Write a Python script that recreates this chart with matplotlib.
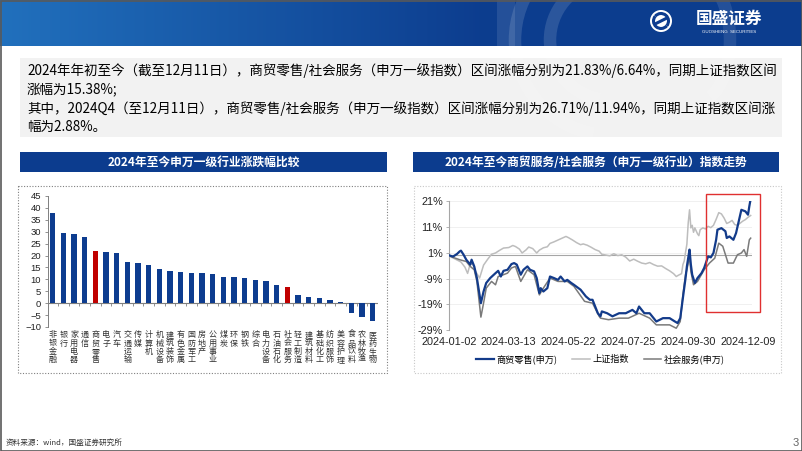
import numpy as np
import pandas as pd
import matplotlib
matplotlib.use("Agg")
import matplotlib.pyplot as plt
import matplotlib.transforms as mtransforms
from matplotlib.patches import Rectangle, Circle, Arc
from matplotlib.lines import Line2D

plt.rcParams['font.family'] = ['Noto Sans CJK SC', 'DejaVu Sans']
NUM_FONT = 'Liberation Sans'

# ---------------- left chart: SW level-1 industries, 2024 YTD change (%)
industries = ["非银金融", "银行", "家用电器", "通信", "商贸零售", "电子", "汽车", "交通运输",
              "传媒", "计算机", "机械设备", "建筑装饰", "有色金属", "国防军工", "房地产", "公用事业",
              "煤炭", "环保", "钢铁", "综合", "电力设备", "石油石化", "社会服务", "轻工制造",
              "建筑材料", "基础化工", "纺织服饰", "美容护理", "食品饮料", "农林牧渔", "医药生物"]
ytd_change = [38.0, 29.4, 29.0, 27.8, 21.83, 21.5, 21.0, 17.2,
              16.8, 16.1, 14.3, 13.7, 12.9, 12.6, 12.6, 12.2,
              10.9, 10.8, 10.5, 9.7, 9.4, 7.8, 6.64, 3.5,
              2.5, 2.2, 1.3, 0.4, -4.3, -5.6, -7.4]
highlight = ["商贸零售", "社会服务"]

# ---------------- right chart: index change since 2023 close (%), by trading day
holidays = ["2024-01-01", "2024-02-09", "2024-02-12", "2024-02-13", "2024-02-14",
            "2024-02-15", "2024-02-16", "2024-04-04", "2024-04-05", "2024-05-01",
            "2024-05-02", "2024-05-03", "2024-06-10", "2024-09-16", "2024-09-17",
            "2024-10-01", "2024-10-02", "2024-10-03", "2024-10-04", "2024-10-07"]
date_ticks = ["2024-01-02", "2024-03-13", "2024-05-22", "2024-07-25", "2024-09-30", "2024-12-09"]

sse_day = [0, 3, 6, 9, 12, 14, 16, 18, 20, 23, 25, 26, 29, 32, 35, 38, 41, 45, 48, 50, 53, 55,
           58, 60, 63, 66, 68, 71, 74, 76, 79, 82, 85, 88, 90, 93, 96, 99, 101, 104, 107, 110,
           113, 115, 118, 121, 124, 127, 130, 133, 136, 139, 142, 145, 148, 151, 154, 157, 160,
           163, 166, 169, 171, 173, 175, 176, 177, 178, 179, 180, 181, 182, 183, 184, 185, 187,
           188, 189, 191, 193, 195, 197, 199, 201, 203, 205, 207, 209, 211, 213, 215, 217, 219,
           221, 223, 225, 227]
sse_pct = [-0.4, -1.0, -1.8, -2.6, -4.6, -7.0, -3.2, -3.6, -6.2, -8.8, -5.5, -3.8, -1.6, 0.4,
           0.9, 1.9, 2.8, 3.0, 3.8, 3.4, 2.4, 0.9, 2.1, 3.2, 2.6, 0.9, 2.0, 2.9, 3.3, 4.6, 5.2,
           5.9, 6.6, 7.3, 6.8, 5.9, 4.9, 4.1, 4.4, 3.9, 3.1, 2.2, 1.6, 0.4, 0.1, -0.2, 0.6, -0.1,
           0.2, -0.7, -2.2, -1.5, -2.3, -3.0, -3.3, -2.8, -3.6, -4.2, -4.1, -5.1, -6.0, -7.1,
           -8.2, -7.6, -7.1, -3.6, -2.2, 1.2, 4.3, 12.5, 17.6, 10.6, 11.6, 8.9, 10.6, 8.3, 7.6,
           9.9, 10.6, 10.2, 11.2, 10.7, 11.6, 13.9, 16.5, 16.0, 14.4, 12.3, 12.8, 13.5, 11.9,
           11.6, 12.4, 13.2, 13.8, 14.7, 15.4]

retail_day = [0, 3, 6, 8, 9, 11, 13, 16, 17, 19, 21, 23, 24, 26, 28, 31, 35, 37, 39, 41, 44, 47,
              49, 51, 54, 56, 59, 61, 64, 66, 68, 69, 71, 74, 76, 79, 82, 84, 87, 89, 92, 94, 99,
              103, 106, 108, 112, 114, 115, 119, 123, 128, 133, 138, 141, 143, 147, 151, 156, 161,
              166, 170, 172, 174, 176, 178, 179, 180, 181, 182, 183, 185, 187, 190, 192, 195, 197,
              199, 201, 202, 205, 208, 209, 211, 214, 216, 218, 220, 223, 225, 226, 227]
retail_pct = [0.0, -0.5, 0.5, 1.5, 1.8, 0.2, -1.7, -3.6, -1.7, -4.3, -8.8, -15.3, -18.5, -14.0,
              -10.7, -8.8, -6.9, -6.0, -8.2, -6.0, -5.6, -3.4, -3.0, -3.6, -7.5, -5.6, -4.3, -5.6,
              -6.2, -8.8, -14.6, -12.7, -14.0, -12.7, -8.2, -8.8, -9.5, -8.2, -10.1, -9.5, -10.7,
              -11.4, -13.3, -15.9, -17.2, -17.2, -22.4, -23.6, -21.7, -22.4, -23.6, -22.4, -22.4,
              -21.1, -22.4, -19.8, -22.4, -22.4, -25.6, -24.3, -24.3, -25.6, -26.2, -24.3, -16.5,
              -8.8, -4.3, -1.0, 2.2, -3.6, -7.5, -10.7, -8.8, -6.9, -4.9, -0.4, -0.8, 0.9, 6.0,
              9.9, 10.5, 9.3, 6.7, 7.3, 6.0, 8.6, 13.1, 17.6, 17.0, 15.7, 19.0, 21.83]

social_day = [0, 3, 8, 13, 16, 19, 21, 24, 26, 28, 32, 35, 37, 41, 44, 47, 50, 54, 59, 64, 68, 71,
              76, 82, 89, 94, 102, 108, 113, 114, 120, 128, 135, 143, 151, 156, 166, 171, 174,
              176, 178, 179, 180, 181, 182, 184, 187, 192, 196, 200, 203, 206, 210, 214, 217, 220,
              222, 224, 226, 227]
social_pct = [0.0, -0.8, -1.7, -2.4, -4.3, -5.6, -10.1, -23.9, -18.5, -12.7, -10.1, -11.4, -8.2,
              -7.5, -6.9, -4.9, -4.3, -10.1, -5.6, -7.5, -15.3, -12.7, -8.8, -10.1, -10.1, -12.0,
              -17.8, -18.5, -23.6, -24.3, -24.9, -24.3, -24.3, -22.4, -24.3, -26.9, -26.9, -28.2,
              -25.6, -15.3, -7.5, -5.6, -3.0, -0.4, -6.2, -11.4, -10.1, -5.6, -3.0, -1.1, 4.7, 3.5,
              -3.0, -3.0, 0.2, 0.9, 2.2, -0.4, 6.0, 6.64]

BLUE = '#0d3c8f'
RED = '#c00000'

W, H = 802, 451
fig = plt.figure(figsize=(W / 100, H / 100), dpi=100)

# ---------------- slide background layer (pixel coordinates)
bg = fig.add_axes([0, 0, 1, 1])
bg.set_xlim(0, W)
bg.set_ylim(H, 0)
bg.axis('off')

# header gradient
grad = np.linspace(0, 1, 400)
grad = np.clip(grad / 0.6, 0, 1)
c0 = np.array([0.13, 0.44, 0.74])
c1 = np.array([0.05, 0.24, 0.56])
img = c0[None, :] * (1 - grad[:, None]) + c1[None, :] * grad[:, None]
bg.imshow(img[None, :, :], extent=[0, W, 46, 0], aspect='auto', zorder=1)
# faint watermark of the logo
for cx, r in [(610, 95), (610, 60)]:
    bg.add_patch(Arc((cx, 40), 2 * r, 2 * r, theta1=100, theta2=260, color='white',
                     lw=9, alpha=0.13, zorder=2))
bg.add_patch(Rectangle((497, 0), 18, 46, color='white', alpha=0.10, lw=0, zorder=2))
bg.add_patch(Arc((700, 40), 60, 120, theta1=-80, theta2=80, color='white', lw=9,
                 alpha=0.10, zorder=2))
# logo
bg.add_patch(Circle((661, 21), 11, facecolor='white', edgecolor='none', zorder=3))
bg.add_patch(Arc((661, 21), 15, 15, theta1=40, theta2=220, color=BLUE, lw=2.2, zorder=4))
bg.add_patch(Arc((661, 21), 15, 15, theta1=220, theta2=400, color=BLUE, lw=2.2, zorder=4))
bg.plot([655, 667], [24, 18], color=BLUE, lw=2.2, zorder=4)
bg.text(729, 19, "国盛证券", color='white', fontsize=12, fontweight='bold',
        ha='center', va='center', zorder=4)
bg.text(729, 32, "GUOSHENG  SECURITIES", color='white', fontsize=3.2,
        ha='center', va='center', family=NUM_FONT, zorder=4)

# slide border
bg.add_patch(Rectangle((0.5, 0.5), W - 1, H - 1, fill=False, edgecolor='#595959', lw=1.2, zorder=5))

# summary text box
bg.add_patch(Rectangle((20, 58), 762, 79, facecolor='#f2f2f2', edgecolor='none', zorder=1))
lines = ["2024年年初至今（截至12月11日），商贸零售/社会服务（申万一级指数）区间涨幅分别为21.83%/6.64%，同期上证指数区间",
         "涨幅为15.38%;",
         "其中，2024Q4（至12月11日），商贸零售/社会服务（申万一级指数）区间涨幅分别为26.71%/11.94%，同期上证指数区间涨",
         "幅为2.88%。"]
for txt, y in zip(lines, [71, 89, 109, 127]):
    bg.text(27, y, txt, fontsize=9.75, color='black', ha='left', va='center', zorder=3)

# panel title bars
for x0, x1, title in [(20, 387, "2024年至今申万一级行业涨跌幅比较"),
                      (413, 779, "2024年至今商贸服务/社会服务（申万一级行业）指数走势")]:
    bg.add_patch(Rectangle((x0, 152), x1 - x0, 20, facecolor='#0c3c8e', edgecolor='none', zorder=2))
    bg.text((x0 + x1) / 2, 162, title, color='white', fontsize=8.5, fontweight='bold',
            ha='center', va='center', zorder=3)

# chart frames
bg.add_patch(Rectangle((18, 186), 369, 187, fill=False, edgecolor='#808080', lw=0.8,
                       linestyle=(0, (1, 1.5)), zorder=2))
bg.add_patch(Rectangle((414, 186), 367, 187, fill=False, edgecolor='#c8c8c8', lw=0.8,
                       linestyle=(0, (1, 1.5)), zorder=2))

# footer
bg.text(6, 443, "资料来源：wind，国盛证券研究所", fontsize=5.5, color='#333333', ha='left', va='center')
bg.text(796, 443, "3", fontsize=8, color='#666666', ha='center', va='center', family=NUM_FONT)

# ---------------- left chart
ax1 = fig.add_axes([47.5 / W, (H - 327) / H, (378 - 47.5) / W, (327 - 196) / H])
ax1.set_facecolor('none')
pos = np.arange(len(industries))
colors = [RED if n in highlight else BLUE for n in industries]
ax1.bar(pos, ytd_change, width=0.5, color=colors, zorder=3)
ax1.axhline(0, color='#7f7f7f', lw=0.8, zorder=2)
ax1.vlines(pos[:-1] + 0.5, -1.0, 0, color='#7f7f7f', lw=0.6, zorder=2)
ax1.set_xlim(-0.5, len(industries) - 0.5)
ax1.set_ylim(-10, 45)
ax1.set_yticks(np.arange(-10, 46, 5))
ax1.tick_params(axis='y', length=2.5, width=0.6, color='#7f7f7f', labelsize=6.8, pad=2,
                labelcolor='#222222')
for lab in ax1.get_yticklabels():
    lab.set_family(NUM_FONT)
ax1.set_xticks([])
# vertical (stacked) category labels, one character per row
trans = mtransforms.blended_transform_factory(ax1.transData, ax1.transAxes)
char_step = 8.2 / (327 - 196)   # one row in axes-fraction units
for p, name in zip(pos, industries):
    for k, ch in enumerate(name):
        ax1.text(p, -0.06 - k * char_step, ch, transform=trans, fontsize=5.8,
                 ha='center', va='center', color='#333333', clip_on=False)
for s in ['top', 'right', 'bottom']:
    ax1.spines[s].set_visible(False)
ax1.spines['left'].set_color('#7f7f7f')
ax1.spines['left'].set_linewidth(0.7)

# ---------------- right chart
cal = pd.bdate_range("2024-01-02", "2024-12-11")
cal = cal[~cal.isin(pd.to_datetime(holidays))]
tick_pos = [cal.get_loc(pd.Timestamp(d)) for d in date_ticks]

ax2 = fig.add_axes([449 / W, (H - 330.3) / H, (752 - 449) / W, (330.3 - 201) / H])
ax2.set_facecolor('none')
ax2.plot(sse_day, sse_pct, color='#bdbdbd', lw=1.1, zorder=3)
ax2.plot(social_day, social_pct, color='#7a7a7a', lw=1.1, zorder=4)
ax2.plot(retail_day, retail_pct, color='#133b8a', lw=1.6, zorder=5)
ax2.axhline(0, color='#a6a6a6', lw=0.8, zorder=2)
ax2.set_xlim(0, len(cal))
ax2.set_ylim(-29, 21)
yt = [-29, -19, -9, 1, 11, 21]
ax2.set_yticks(yt)
ax2.set_yticklabels([f"{v}%" for v in yt], family=NUM_FONT)
ax2.grid(axis='y', color='#eeeeee', lw=0.6, zorder=0)
ax2.set_xticks(tick_pos)
ax2.set_xticklabels(date_ticks, family=NUM_FONT)
ax2.tick_params(axis='x', length=0, pad=5, labelsize=7.8, labelcolor='#222222')
ax2.tick_params(axis='y', length=2.5, width=0.6, color='#a6a6a6', labelsize=7.8, pad=2,
                labelcolor='#222222')
for s in ['top', 'right', 'bottom']:
    ax2.spines[s].set_visible(False)
ax2.spines['left'].set_color('#a6a6a6')
ax2.spines['left'].set_linewidth(0.8)

ax2.add_patch(Rectangle((193.4, -22.0), 40.9, 45.7, fill=False, edgecolor='#e03030',
                        lw=1.0, clip_on=False, zorder=6))

handles = [Line2D([], [], color='#133b8a', lw=1.6),
           Line2D([], [], color='#bdbdbd', lw=1.1),
           Line2D([], [], color='#7a7a7a', lw=1.1)]
ax2.legend(handles, ["商贸零售(申万)", "上证指数", "社会服务(申万)"], loc='center',
           bbox_to_anchor=(0.5, -0.225), ncol=3, frameon=False, fontsize=6.6,
           handlelength=1.9, columnspacing=1.6, handletextpad=0.3)

fig.savefig("out.png", dpi=100)
